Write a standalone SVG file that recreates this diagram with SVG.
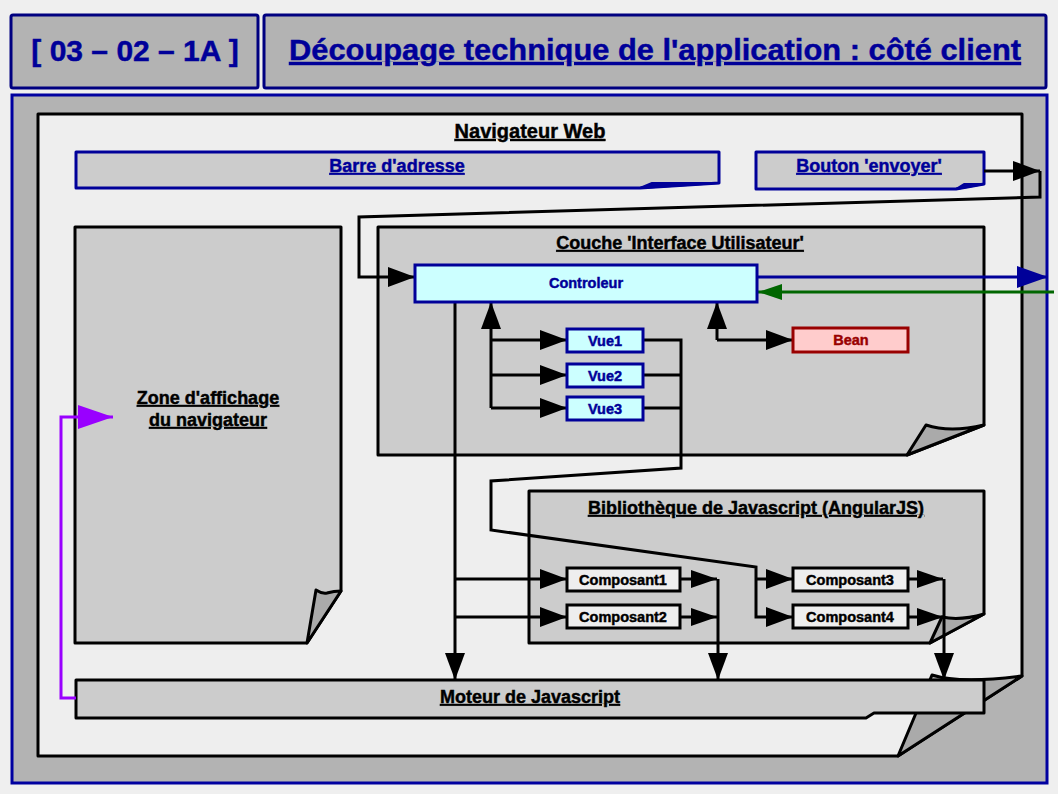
<svg xmlns="http://www.w3.org/2000/svg" width="1058" height="794" viewBox="0 0 1058 794">
  <style>
    text { font-family: "Liberation Sans", Arial, sans-serif; font-weight: bold; text-anchor: middle; stroke-width: 0.45; }
    .u { text-decoration: underline; }
    .navy { fill: #000099; stroke: #000099; }
    .blk { fill: #000000; stroke: #000000; }
    .red { fill: #990000; stroke: #990000; }
    .hdr { fill: #b3b3b3; stroke: #000080; stroke-width: 3; }
    .page { fill: #eeeeee; stroke: #000000; stroke-width: 3; stroke-linejoin: round; }
    .grey { fill: #cccccc; stroke: #000000; stroke-width: 3; stroke-linejoin: round; }
    .bar { fill: #cccccc; stroke: #000099; stroke-width: 3; stroke-linejoin: round; }
    .curl { fill: #aaaaaa; stroke: #000000; stroke-width: 3; stroke-linejoin: round; }
    .curlb { fill: #000099; stroke: #000099; stroke-width: 2; stroke-linejoin: round; }
    .cyan { fill: #ccffff; stroke: #000099; stroke-width: 3; }
    .bean { fill: #ffcccc; stroke: #990000; stroke-width: 3; }
    .comp { fill: #eeeeee; stroke: #000000; stroke-width: 3; }
    .ln { fill: none; stroke: #000000; stroke-width: 3; stroke-linejoin: miter; }
  </style>
  <defs>
    <marker id="ah" markerUnits="userSpaceOnUse" markerWidth="28" markerHeight="22" refX="27" refY="10" orient="auto">
      <path d="M0,0 L27,10 L0,20 z" fill="#000000"/>
    </marker>
    <marker id="ahs" markerUnits="userSpaceOnUse" markerWidth="28" markerHeight="20" refX="26" refY="9" orient="auto">
      <path d="M0,0 L26,9 L0,18 z" fill="#000000"/>
    </marker>
    <marker id="ahBlue" markerUnits="userSpaceOnUse" markerWidth="32" markerHeight="24" refX="31" refY="11" orient="auto">
      <path d="M0,0 L31,11 L0,22 z" fill="#000099"/>
    </marker>
    <marker id="ahGreen" markerUnits="userSpaceOnUse" markerWidth="26" markerHeight="18" refX="24" refY="8" orient="auto">
      <path d="M0,0 L24,8 L0,16 z" fill="#006600"/>
    </marker>
    <marker id="ahPurple" markerUnits="userSpaceOnUse" markerWidth="36" markerHeight="26" refX="35" refY="12" orient="auto">
      <path d="M0,0 L35,12 L0,24 z" fill="#9900ff"/>
    </marker>
  </defs>

  <rect x="0" y="0" width="1058" height="794" fill="#efefef"/>

  <!-- header -->
  <g id="ref">
    <rect class="hdr" x="11" y="15" width="247" height="73" rx="2"/>
    <text class="navy" x="135" y="61" font-size="30">[ 03 – 02 – 1A ]</text>
  </g>
  <g id="title">
    <rect class="hdr" x="264" y="15" width="782" height="73" rx="2"/>
    <text class="navy u" x="655" y="60" font-size="30" textLength="732" lengthAdjust="spacingAndGlyphs">Découpage technique de l'application : côté client</text>
  </g>

  <!-- main panel -->
  <rect id="panel" x="12" y="95" width="1035" height="688" fill="#b3b3b3" stroke="#0000a0" stroke-width="3"/>

  <!-- browser page with curled corner -->
  <g id="navigateur">
    <path class="page" d="M38,114 L1022,114 L1022,676 L898,756 L38,756 Z"/>
    <path class="curl" d="M898,756 L932,675 Q960,684 1022,676 Z"/>
    <text class="blk u" x="530" y="138" font-size="20">Navigateur Web</text>
  </g>

  <g id="barre">
    <path class="bar" d="M76,152 L719,152 L719,183 L640,188 L76,188 Z"/>
    <path class="curlb" d="M640,188 L652,183 L719,183 Z"/>
    <text class="navy u" x="397" y="172" font-size="18">Barre d'adresse</text>
  </g>

  <g id="bouton">
    <path class="bar" d="M756,152 L984,152 L984,184 L956,189 L756,189 Z"/>
    <path class="curlb" d="M956,189 L964,184 L984,184 Z"/>
    <text class="navy u" x="869" y="172" font-size="18">Bouton 'envoyer'</text>
  </g>

  <g id="zone">
    <path class="grey" d="M75,227 L341,227 L341,591 L307,643 L75,643 Z"/>
    <path class="curl" d="M307,643 L316,590 Q322,594 327,593 Q334,591 341,591 Z"/>
    <text class="blk u" x="208" y="404" font-size="18">Zone d'affichage</text>
    <text class="blk u" x="208" y="426" font-size="18">du navigateur</text>
  </g>

  <g id="couche">
    <path class="grey" d="M378,227 L984,227 L984,425 L907,455 L378,455 Z"/>
    <path class="curl" d="M907,455 L926,425 Q950,433 984,425 Z"/>
    <text class="blk u" x="680" y="249" font-size="18">Couche 'Interface Utilisateur'</text>
  </g>

  <g id="bibliotheque">
    <path class="grey" d="M529,491 L984,491 L984,614 L930,643 L529,643 Z"/>
    <path class="curl" d="M930,643 L942,617 Q960,621 984,614 Z"/>
    <text class="blk u" x="756" y="514" font-size="18">Bibliothèque de Javascript (AngularJS)</text>
  </g>

  <g id="moteur">
    <path class="grey" d="M76,680 L984,680 L984,713 L874,713 L866,718 L76,718 Z"/>
    <text class="blk u" x="530" y="703" font-size="18">Moteur de Javascript</text>
  </g>

  <!-- connectors -->
  <g id="connectors">
    <!-- submit button back to the controller -->
    <polyline class="ln" points="984,171 1040,171" marker-end="url(#ah)"/>
    <polyline class="ln" points="1040,171 1040,197 359,217 359,277 415,277" marker-end="url(#ah)"/>
    <!-- controller <-> server -->
    <line x1="757" y1="277" x2="1048" y2="277" stroke="#000099" stroke-width="3" marker-end="url(#ahBlue)"/>
    <line x1="1054" y1="292" x2="758" y2="292" stroke="#006600" stroke-width="3" marker-end="url(#ahGreen)"/>
    <!-- views -->
    <polyline class="ln" points="491,408 491,302" marker-end="url(#ah)"/>
    <polyline class="ln" points="491,340 567,340" marker-end="url(#ah)"/>
    <polyline class="ln" points="491,375 567,375" marker-end="url(#ah)"/>
    <polyline class="ln" points="491,408 567,408" marker-end="url(#ah)"/>
    <polyline class="ln" points="643,340 681,340 681,468 491,481 491,530 756,567 756,617 793,617" marker-end="url(#ah)"/>
    <polyline class="ln" points="643,375 681,375"/>
    <polyline class="ln" points="643,408 681,408"/>
    <polyline class="ln" points="756,579 793,579" marker-end="url(#ah)"/>
    <!-- bean -->
    <polyline class="ln" points="717,340 717,302" marker-end="url(#ah)"/>
    <polyline class="ln" points="717,340 793,340" marker-end="url(#ah)"/>
    <!-- controller to components and engine -->
    <polyline class="ln" points="455,302 455,680" marker-end="url(#ah)"/>
    <polyline class="ln" points="455,579 567,579" marker-end="url(#ah)"/>
    <polyline class="ln" points="455,617 567,617" marker-end="url(#ah)"/>
    <!-- components to engine -->
    <polyline class="ln" points="680,579 717,579" marker-end="url(#ahs)"/>
    <polyline class="ln" points="680,617 717,617" marker-end="url(#ahs)"/>
    <polyline class="ln" points="718,579 718,680" marker-end="url(#ah)"/>
    <polyline class="ln" points="908,579 943,579" marker-end="url(#ahs)"/>
    <polyline class="ln" points="908,617 943,617" marker-end="url(#ahs)"/>
    <polyline class="ln" points="944,579 944,680" marker-end="url(#ah)"/>
    <!-- engine to display zone -->
    <polyline points="76,698 61,698 61,417 113,417" fill="none" stroke="#9900ff" stroke-width="3" marker-end="url(#ahPurple)"/>
  </g>

  <g id="controleur">
    <rect class="cyan" x="415" y="265" width="342" height="37"/>
    <text class="navy" x="586" y="288" font-size="14.5">Controleur</text>
  </g>
  <g id="vue1">
    <rect class="cyan" x="567" y="329" width="76" height="23"/>
    <text class="navy" x="605" y="346" font-size="14.5">Vue1</text>
  </g>
  <g id="vue2">
    <rect class="cyan" x="567" y="364" width="76" height="23"/>
    <text class="navy" x="605" y="381" font-size="14.5">Vue2</text>
  </g>
  <g id="vue3">
    <rect class="cyan" x="567" y="397" width="76" height="23"/>
    <text class="navy" x="605" y="414" font-size="14.5">Vue3</text>
  </g>
  <g id="bean">
    <rect class="bean" x="793" y="328" width="115" height="24"/>
    <text class="red" x="851" y="345" font-size="14.5">Bean</text>
  </g>
  <g id="composant1">
    <rect class="comp" x="567" y="568" width="113" height="23"/>
    <text class="blk" x="623" y="585" font-size="14.5">Composant1</text>
  </g>
  <g id="composant2">
    <rect class="comp" x="567" y="605" width="113" height="23"/>
    <text class="blk" x="623" y="622" font-size="14.5">Composant2</text>
  </g>
  <g id="composant3">
    <rect class="comp" x="793" y="568" width="115" height="23"/>
    <text class="blk" x="850" y="585" font-size="14.5">Composant3</text>
  </g>
  <g id="composant4">
    <rect class="comp" x="793" y="605" width="115" height="23"/>
    <text class="blk" x="850" y="622" font-size="14.5">Composant4</text>
  </g>
</svg>
